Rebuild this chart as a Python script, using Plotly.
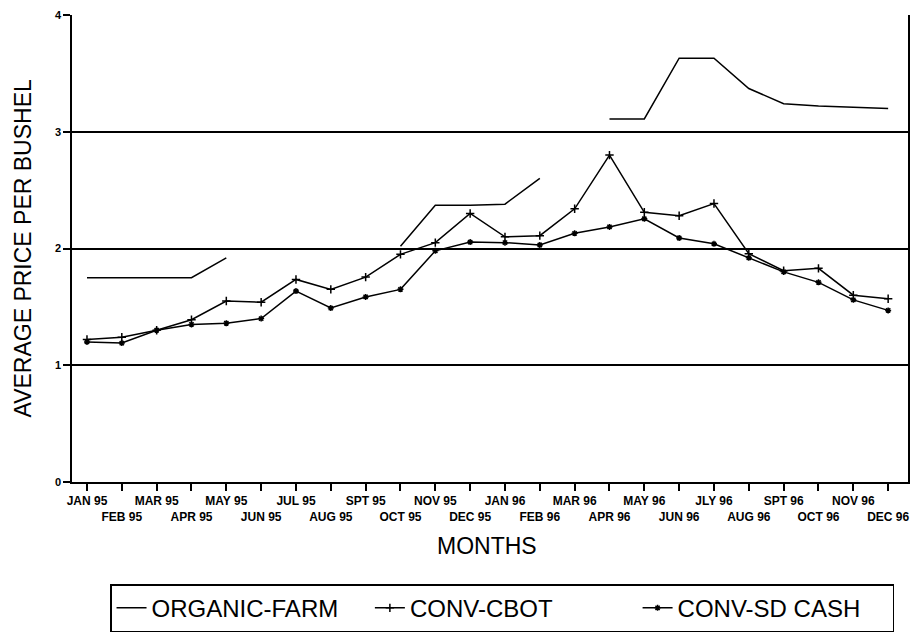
import plotly.graph_objects as go

months = ["JAN 95", "FEB 95", "MAR 95", "APR 95", "MAY 95", "JUN 95",
          "JUL 95", "AUG 95", "SPT 95", "OCT 95", "NOV 95", "DEC 95",
          "JAN 96", "FEB 96", "MAR 96", "APR 96", "MAY 96", "JUN 96",
          "JLY 96", "AUG 96", "SPT 96", "OCT 96", "NOV 96", "DEC 96"]

organic_farm = [1.75, 1.75, 1.75, 1.75, 1.92, None,
                None, None, None, 2.02, 2.37, 2.37,
                2.38, 2.60, None, 3.11, 3.11, 3.63,
                3.63, 3.37, 3.24, 3.22, 3.21, 3.20]

conv_cbot = [1.22, 1.24, 1.30, 1.39, 1.55, 1.54,
             1.735, 1.65, 1.755, 1.95, 2.05, 2.30,
             2.10, 2.11, 2.34, 2.80, 2.31, 2.28,
             2.385, 1.955, 1.81, 1.83, 1.60, 1.57]

conv_sd_cash = [1.20, 1.19, 1.30, 1.35, 1.36, 1.40,
                1.635, 1.49, 1.585, 1.65, 1.98, 2.055,
                2.05, 2.03, 2.13, 2.185, 2.255, 2.09,
                2.04, 1.92, 1.80, 1.71, 1.56, 1.47]

y_ticks = [0, 1, 2, 3, 4]

x = list(range(len(months)))
tick_text = [m if i % 2 == 0 else " <br>" + m for i, m in enumerate(months)]

FONT = "Liberation Sans, Arial, sans-serif"
NB = "&nbsp;"

fig = go.Figure()
fig.add_trace(go.Scatter(
    x=x, y=organic_farm, mode="lines", name="ORGANIC-FARM" + NB * 4,
    line=dict(color="black", width=1.5), connectgaps=False))
fig.add_trace(go.Scatter(
    x=x, y=conv_cbot, mode="lines+markers", name="CONV-CBOT" + NB * 12,
    line=dict(color="black", width=1.5),
    marker=dict(symbol="cross-thin", size=6, color="black",
                line=dict(color="black", width=1.5))))
fig.add_trace(go.Scatter(
    x=x, y=conv_sd_cash, mode="lines+markers", name="CONV-SD CASH" + NB * 4,
    line=dict(color="black", width=1.5),
    marker=dict(symbol="asterisk", size=5, color="black",
                line=dict(color="black", width=1.5))))

fig.update_layout(
    width=915, height=627,
    margin=dict(l=64, r=15, t=7, b=153, autoexpand=False),
    paper_bgcolor="white", plot_bgcolor="white",
    font=dict(family=FONT, color="black"),
    showlegend=True,
    legend=dict(orientation="h", x=0.0455, xanchor="left",
                y=-0.219, yanchor="top",
                bordercolor="black", borderwidth=1.5,
                font=dict(size=24, family=FONT, color="black"),
                itemwidth=30, tracegroupgap=0),
    xaxis=dict(range=[-0.43, 23.57], tickmode="array", tickvals=x,
               ticktext=tick_text, ticks="outside", ticklen=7,
               tickwidth=1.5, tickcolor="black",
               tickfont=dict(size=12, family=FONT, color="black", weight="bold"),
               showline=True, linecolor="black", linewidth=1.5,
               mirror=False, showgrid=False, zeroline=False, tickangle=0),
    yaxis=dict(range=[0, 4], tickmode="array", tickvals=y_ticks,
               ticks="outside", ticklen=7, tickwidth=1.5, tickcolor="black",
               tickfont=dict(size=11, family=FONT, color="black", weight="bold"),
               showline=True, linecolor="black", linewidth=1.5, mirror=True,
               showgrid=True, gridcolor="black", gridwidth=1.5,
               zeroline=False),
    annotations=[
        dict(text="AVERAGE PRICE PER BUSHEL", xref="paper", yref="paper",
             x=0, y=0.5, xanchor="center", yanchor="middle",
             xshift=-50, textangle=-90, showarrow=False,
             font=dict(size=23, family=FONT, color="black")),
        dict(text="MONTHS", xref="paper", yref="paper",
             x=0.496, y=0, xanchor="center", yanchor="middle",
             yshift=-64, showarrow=False,
             font=dict(size=23, family=FONT, color="black")),
    ],
)

fig.write_html("out.html")
